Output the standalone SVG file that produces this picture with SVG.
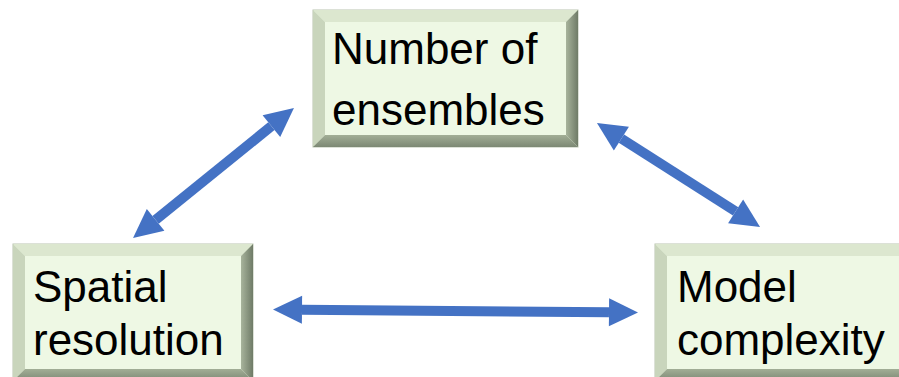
<svg xmlns="http://www.w3.org/2000/svg" width="899" height="377" viewBox="0 0 899 377">
<defs>
<style>
.face{fill:#EEF8E4;stroke:#B9C3AF;stroke-width:1}
.bt{fill:#DCE7CF}
.bl{fill:#C9D5BC}
.br{fill:url(#gr)}
.bb{fill:url(#gb)}
.lbl{font-family:"Liberation Sans",Arial,sans-serif;font-size:44px;fill:#000}
.arr{stroke:#4472C4;stroke-width:10;fill:none}
</style>
<linearGradient id="gr" x1="0" y1="0" x2="1" y2="0"><stop offset="0" stop-color="#A8B49C"/><stop offset="1" stop-color="#6F7B67"/></linearGradient>
<linearGradient id="gb" x1="0" y1="0" x2="0" y2="1"><stop offset="0" stop-color="#A2AE96"/><stop offset="1" stop-color="#7C8874"/></linearGradient>
<marker id="ah" markerUnits="userSpaceOnUse" markerWidth="40" markerHeight="40" refX="0" refY="0" orient="auto-start-reverse" overflow="visible">
<path d="M0,-14 L29,0 L0,14 z" fill="#4472C4"/>
</marker>
</defs>
<g id="connectors">
<line class="arr" x1="155.6" y1="219.8" x2="271.4" y2="126.2" marker-start="url(#ah)" marker-end="url(#ah)"/>
<line class="arr" x1="621.4" y1="138.6" x2="735.6" y2="211.4" marker-start="url(#ah)" marker-end="url(#ah)"/>
<line class="arr" x1="302" y1="309.7" x2="609" y2="312.3" marker-start="url(#ah)" marker-end="url(#ah)"/>
</g>
<g id="node-ensembles">
<rect class="face" x="313" y="10" width="265" height="137"/>
<polygon class="bt" points="313,10 578,10 566,22 325,22"/>
<polygon class="bl" points="313,10 325,22 325,135 313,147"/>
<polygon class="br" points="578,10 578,147 566,135 566,22"/>
<polygon class="bb" points="313,147 325,135 566,135 578,147"/>
<text class="lbl" x="332" y="64">Number of</text>
<text class="lbl" x="332" y="125">ensembles</text>
</g>
<g id="node-spatial">
<rect class="face" x="13" y="244" width="240" height="137"/>
<polygon class="bt" points="13,244 253,244 241,256 25,256"/>
<polygon class="bl" points="13,244 25,256 25,369 13,381"/>
<polygon class="br" points="253,244 253,381 241,369 241,256"/>
<polygon class="bb" points="13,381 25,369 241,369 253,381"/>
<text class="lbl" x="33" y="302">Spatial</text>
<text class="lbl" x="33" y="355">resolution</text>
</g>
<g id="node-model">
<rect class="face" x="655" y="244" width="265" height="137"/>
<polygon class="bt" points="655,244 920,244 908,256 667,256"/>
<polygon class="bl" points="655,244 667,256 667,369 655,381"/>
<polygon class="bb" points="655,381 667,369 908,369 920,381"/>
<text class="lbl" x="677" y="302">Model</text>
<text class="lbl" x="677" y="355">complexity</text>
</g>
</svg>
